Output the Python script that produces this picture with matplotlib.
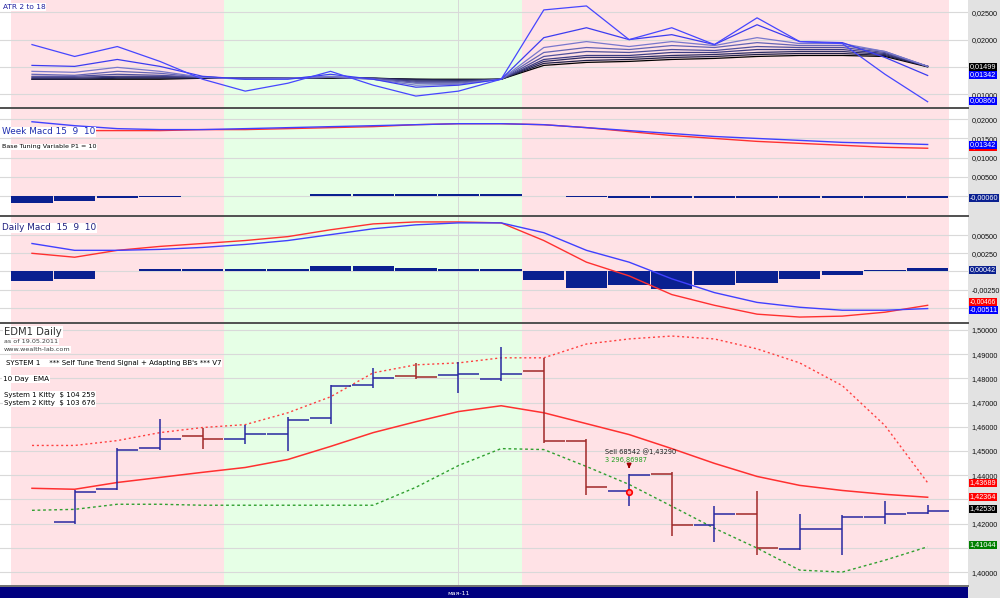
import numpy as np
import matplotlib
matplotlib.use("Agg")
import matplotlib.pyplot as plt

nan = np.nan
# ---------------- data ----------------
bars = list(range(22))                    # weekly bars
shade = ["p"] * 5 + ["g"] * 7 + ["p"] * 10  # background regime per bar
month_label = "мая-11"
month_bar = 10

atr1 = [.01909, .01691, .01873, .01600, .01273, .01055, .01200, .01418, .01164, .00964, .01055, .01273,
        .02545, .02618, .02000, .02218, .01909, .02400, .01964, .01927, .01364, .00860]
atr2 = [.01527, .01509, .01636, .01509, .01327, .01273, .01273, .01364, .01273, .01127, .01164, .01273,
        .02036, .02218, .02000, .02091, .01909, .02273, .01964, .01945, .01673, .01342]
atr3 = [.01418, .01400, .01491, .01418, .01309, .01273, .01291, .01327, .01273, .01164, .01182, .01273,
        .01855, .01964, .01873, .01964, .01891, .02036, .01927, .01927, .01782, .01509]
atr4 = [.01364, .01345, .01418, .01382, .01309, .01291, .01291, .01309, .01273, .01200, .01200, .01273,
        .01764, .01855, .01818, .01891, .01855, .01945, .01891, .01891, .01782, .01509]
atr5 = [.01327, .01327, .01364, .01345, .01309, .01291, .01291, .01309, .01291, .01218, .01218, .01273,
        .01691, .01782, .01764, .01818, .01800, .01873, .01855, .01855, .01764, .01509]
atr6 = [.01309, .01309, .01327, .01327, .01309, .01291, .01291, .01309, .01291, .01236, .01236, .01273,
        .01636, .01709, .01709, .01764, .01764, .01818, .01818, .01818, .01745, .01509]
atr7 = [.01291, .01291, .01309, .01309, .01309, .01291, .01291, .01309, .01291, .01255, .01255, .01273,
        .01600, .01673, .01673, .01709, .01727, .01764, .01782, .01782, .01727, .01509]
atr8 = [.01273, .01273, .01291, .01291, .01291, .01291, .01291, .01309, .01291, .01273, .01255, .01273,
        .01564, .01618, .01636, .01673, .01691, .01727, .01745, .01745, .01709, .01509]
atr9 = [.01273, .01273, .01273, .01273, .01291, .01291, .01291, .01291, .01291, .01273, .01273, .01273,
        .01527, .01582, .01600, .01636, .01655, .01691, .01709, .01709, .01691, .01499]

week_macd = [.01936, .01833, .01756, .01731, .01731, .01756, .01782, .01808, .01833, .01859, .01885, .01885,
             .01859, .01782, .01705, .01628, .01551, .01500, .01449, .01397, .01372, .01342]
week_signal = [.01705, .01705, .01705, .01705, .01731, .01731, .01756, .01782, .01808, .01859, .01885, .01885,
               .01859, .01782, .01679, .01577, .01500, .01423, .01372, .01321, .01269, .01244]
week_hist = [-.0019, -.0013, -.0006, -.0003, 0, 0, 0, .0004, .0004, .0005, .0004, .0004,
             0, -.0004, -.0005, -.0005, -.0005, -.0006, -.0006, -.0006, -.0006, -.0006]

daily_macd = [.00385, .00291, .00291, .00304, .00331, .00372, .00426, .00507, .00588, .00642, .00669, .00669,
              .00534, .00291, .00128, -.00101, -.00291, -.00426, -.00493, -.00534, -.00534, -.00511]
daily_signal = [.00250, .00196, .00291, .00345, .00385, .00426, .00480, .00574, .00655, .00682, .00682, .00669,
                .00426, .00128, -.00061, -.00318, -.00466, -.00588, -.00628, -.00615, -.00561, -.00466]
daily_hist = [-.00128, -.00101, 0, .0003, .0003, .0003, .0004, .00074, .00074, .00047, .0003, .0003,
              -.00115, -.00223, -.00182, -.00236, -.00182, -.00155, -.00101, -.00047, .0002, .00042]

opens = [nan, 1.4206, 1.4342, 1.4514, 1.4560, 1.4551, 1.4572, 1.4638, 1.4774, 1.4811, 1.4815, 1.4798,
         1.4831, 1.4543, 1.4333, 1.4403, 1.4193, 1.4239, 1.4095, 1.4177, 1.4226, 1.4243]
highs = [nan, 1.4337, 1.4514, 1.4634, 1.4597, 1.4609, 1.4642, 1.4774, 1.4844, 1.4864, 1.4868, 1.4930,
         1.4885, 1.4551, 1.4407, 1.4412, 1.4272, 1.4333, 1.4239, 1.4235, 1.4292, 1.4276]
lows = [nan, 1.4198, 1.4337, 1.4506, 1.4510, 1.4531, 1.4502, 1.4613, 1.4761, 1.4798, 1.4741, 1.4790,
        1.4535, 1.4317, 1.4272, 1.4148, 1.4123, 1.4070, 1.4091, 1.4070, 1.4198, 1.4239]
closes = [nan, 1.4329, 1.4506, 1.4551, 1.4551, 1.4572, 1.4630, 1.4770, 1.4802, 1.4807, 1.4819, 1.4819,
          1.4543, 1.4350, 1.4399, 1.4193, 1.4239, 1.4099, 1.4177, 1.4226, 1.4239, 1.4253]
ema10 = [1.4346, 1.4342, 1.4370, 1.4391, 1.4412, 1.4432, 1.4465, 1.4519, 1.4576, 1.4621, 1.4663, 1.4687,
         1.4658, 1.4613, 1.4568, 1.4510, 1.4449, 1.4395, 1.4358, 1.4337, 1.4321, 1.4309]
ema_label = 1.42364
bb_upper = [1.4523, 1.4523, 1.4543, 1.4576, 1.4597, 1.4609, 1.4658, 1.4724, 1.4823, 1.4856, 1.4864, 1.4885,
            1.4885, 1.4942, 1.4963, 1.4975, 1.4963, 1.4922, 1.4864, 1.4770, 1.4605, 1.43689]
bb_lower = [1.4255, 1.4259, 1.4280, 1.4280, 1.4276, 1.4276, 1.4276, 1.4276, 1.4276, 1.4350, 1.4440, 1.4510,
            1.4506, 1.4436, 1.4362, 1.4272, 1.4181, 1.4099, 1.4008, 1.4000, 1.4049, 1.41044]
sell_bar, sell_price = 14, 1.4329
sell_text = "Sell 68542 @1,43290"
sell_profit = "3 296,86987"

# ---------------- figure ----------------
W, H = 1000, 598
fig = plt.figure(figsize=(W / 100, H / 100), dpi=100)
fig.patch.set_facecolor("white")
FONT = "DejaVu Sans"
AXFONT = "Liberation Sans"


def ax_px(x0, y0, x1, y1, **kw):
    return fig.add_axes([x0 / W, 1 - y1 / H, (x1 - x0) / W, (y1 - y0) / H], **kw)


def ftext(x, y, s, **kw):
    kw.setdefault("va", "center")
    kw.setdefault("ha", "left")
    kw.setdefault("family", FONT)
    return fig.text(x / W, 1 - y / H, s, **kw)


def fmt(v):
    return f"{v:.5f}".replace(".", ",")


# right gray scale column
gcol = ax_px(968, 0, 1000, 598)
gcol.set_facecolor("#E2E2E2")
gcol.set_xticks([]); gcol.set_yticks([])
for s in gcol.spines.values():
    s.set_visible(False)

XL = (-0.75, 21.946)
PINK, GREEN = "#FFE2E6", "#E6FFE6"


def setup(ax, ylim, grids, ticks):
    ax.set_xlim(*XL)
    ax.set_ylim(*ylim)
    ax.set_facecolor("white")
    start = 0
    for i in range(1, len(shade) + 1):
        if i == len(shade) or shade[i] != shade[start]:
            ax.axvspan(start - 0.5, i - 0.5, color=PINK if shade[start] == "p" else GREEN, lw=0, zorder=0)
            start = i
    for g in grids:
        ax.axhline(g, color="#D9D9D9", lw=0.8, zorder=1)
    ax.axvline(month_bar, color="#D8D8D8", lw=0.7, zorder=1)
    for s in ax.spines.values():
        s.set_visible(False)
    ax.set_xticks([])
    ax.yaxis.tick_right()
    ax.set_yticks(ticks)
    ax.set_yticklabels([fmt(t) for t in ticks], family=AXFONT)
    ax.tick_params(axis="y", length=0, pad=2.5, labelsize=5.2, labelcolor="#101010")


x = np.array(bars)

# ---- ATR panel ----
ax1 = ax_px(0, 0, 968, 107)
setup(ax1, (0.007636, 0.02727), [0.025, 0.02, 0.015, 0.01], [0.025, 0.02, 0.01])
atr_sets = [atr9, atr8, atr7, atr6, atr5, atr4, atr3, atr2, atr1]
atr_cols = ["#000000", "#1E1E46", "#2D2D64", "#3C3C82", "#50509B", "#6464B4", "#7878CC", "#3C3CF0", "#4646FF"]
for a, c in zip(atr_sets, atr_cols):
    ax1.plot(x, a, color=c, lw=0.9, zorder=3)
ftext(3, 7, "ATR 2 to 18", fontsize=5.3, color="#2020A0",
      bbox=dict(boxstyle="square,pad=0.1", fc="white", ec="none"))

# ---- Week MACD ----
ax2 = ax_px(0, 109, 968, 215)
setup(ax2, (-0.005, 0.02269), [0.02, 0.015, 0.01, 0.005, 0.0], [0.02, 0.015, 0.01, 0.005])
ax2.bar(x, week_hist, width=0.97, color="#0A2090", zorder=3)
ax2.plot(x, week_signal, color="#FF3030", lw=1.0, zorder=4)
ax2.plot(x, week_macd, color="#4040FF", lw=1.0, zorder=4)
ftext(2, 132, "Week Macd 15  9  10", fontsize=6.4, color="#2030B0",
      bbox=dict(boxstyle="square,pad=0.1", fc="white", ec="none"))
ftext(2, 147, "Base Tuning Variable P1 = 10", fontsize=4.6, color="#000000",
      bbox=dict(boxstyle="square,pad=0.1", fc="white", ec="none"))

# ---- Daily MACD ----
ax3 = ax_px(0, 217, 968, 322)
setup(ax3, (-0.00696, 0.0075), [0.005, 0.0025, 0.0, -0.0025, -0.005], [0.005, 0.0025, -0.0025])
ax3.bar(x, daily_hist, width=0.97, color="#0A2090", zorder=3)
ax3.plot(x, daily_signal, color="#FF3030", lw=1.0, zorder=4)
ax3.plot(x, daily_macd, color="#4040FF", lw=1.0, zorder=4)
ftext(2, 228, "Daily Macd  15  9  10", fontsize=6.4, color="#202080",
      bbox=dict(boxstyle="square,pad=0.1", fc="white", ec="none"))

# ---- Price ----
ax4 = ax_px(0, 324, 968, 585)
pt = [1.50, 1.49, 1.48, 1.47, 1.46, 1.45, 1.44, 1.42, 1.40]
setup(ax4, (1.39465, 1.50247), [1.50, 1.49, 1.48, 1.47, 1.46, 1.45, 1.44, 1.43, 1.42, 1.41, 1.40], pt)
ax4.plot(x, bb_upper, color="#FF4040", lw=1.0, ls=(0, (1.5, 2)), zorder=3)
ax4.plot(x, bb_lower, color="#30A030", lw=1.0, ls=(0, (2, 2)), zorder=3)
ax4.plot(x, ema10, color="#FF3030", lw=1.1, zorder=3)
hw = 0.49
for k in bars:
    o, h, l, c = opens[k], highs[k], lows[k], closes[k]
    if np.isnan(o):
        continue
    col = "#2828A0" if c >= o else "#A02828"
    ax4.vlines(k, l, h, color=col, lw=1.1, zorder=4)
    ax4.hlines(o, k - hw, k, color=col, lw=1.1, zorder=4)
    ax4.hlines(c, k, k + hw, color=col, lw=1.1, zorder=4)
# sell signal
ax4.plot([sell_bar], [sell_price], marker="o", ms=4, mfc="#FF9090", mec="#FF0000", mew=1.2, zorder=6)
ax4.annotate("", xy=(sell_bar, 1.4416), xytext=(sell_bar, 1.4450),
             arrowprops=dict(arrowstyle="-|>", color="#A00000", lw=1.2, mutation_scale=6), zorder=6)
ax4.text(sell_bar - 0.57, 1.4498, sell_text, fontsize=4.8, color="#202020", family=FONT, va="center", ha="left", zorder=6)
ax4.text(sell_bar - 0.57, 1.4462, sell_profit, fontsize=4.8, color="#20A020", family=FONT, va="center", ha="left", zorder=6)

wb = dict(boxstyle="square,pad=0.1", fc="white", ec="none")
ftext(4, 332, "EDM1 Daily", fontsize=7.2, color="#303030", bbox=wb)
ftext(4, 342, "as of 19.05.2011", fontsize=4.6, color="#404040", bbox=wb)
ftext(4, 349.5, "www.wealth-lab.com", fontsize=4.6, color="#404040", bbox=wb)
ftext(6, 363, "SYSTEM 1    *** Self Tune Trend Signal + Adapting BB's *** V7", fontsize=5, color="#000000", bbox=wb)
ftext(3, 379, "10 Day  EMA", fontsize=5.2, color="#000000", bbox=wb)
ftext(4, 395, "System 1 Kitty  $ 104 259", fontsize=5, color="#000000", bbox=wb)
ftext(4, 403, "System 2 Kitty  $ 103 676", fontsize=5, color="#000000", bbox=wb)

# ---- bottom date bar ----
ax5 = ax_px(0, 587, 968, 598)
ax5.set_facecolor("#000080")
ax5.set_xlim(*XL); ax5.set_ylim(0, 1)
ax5.set_xticks([]); ax5.set_yticks([])
for s in ax5.spines.values():
    s.set_visible(False)
ax5.text(month_bar, 0.45, month_label, color="white", fontsize=4.5, ha="center", va="center", family=FONT)

# separators
for yy, c, lw in [(108, "#505050", 1.4), (216, "#505050", 1.4), (323, "#505050", 1.4), (586, "#707070", 1.4)]:
    fig.add_artist(plt.Line2D([0, 968 / W], [1 - yy / H, 1 - yy / H], color=c, lw=lw))


# ---- current value boxes ----
def vbox(y, s, fc, tc="white", fs=5.2):
    ftext(969.5, y, s, fontsize=fs, color=tc, family=AXFONT,
          bbox=dict(boxstyle="square,pad=0.12", fc=fc, ec="none"))


vbox(67, fmt(atr9[-1]), "#000000")
vbox(75, fmt(atr2[-1]), "#0000FF")
vbox(101, fmt(atr1[-1]), "#0000FF")
vbox(147, fmt(week_signal[-1]), "#FF0000")
vbox(145, fmt(week_macd[-1]), "#0000FF")
vbox(198, fmt(week_hist[-1]), "#0A2090")
vbox(270, fmt(daily_hist[-1]), "#0A2090")
vbox(302, fmt(daily_signal[-1]), "#FF0000", fs=4.8)
vbox(310, fmt(daily_macd[-1]), "#0000FF")
vbox(483, fmt(bb_upper[-1]), "#FF0000")
vbox(497, fmt(ema_label), "#FF0000")
vbox(509, fmt(closes[-1]), "#000000")
vbox(545, fmt(bb_lower[-1]), "#008000")

fig.savefig("out.png", dpi=100)
